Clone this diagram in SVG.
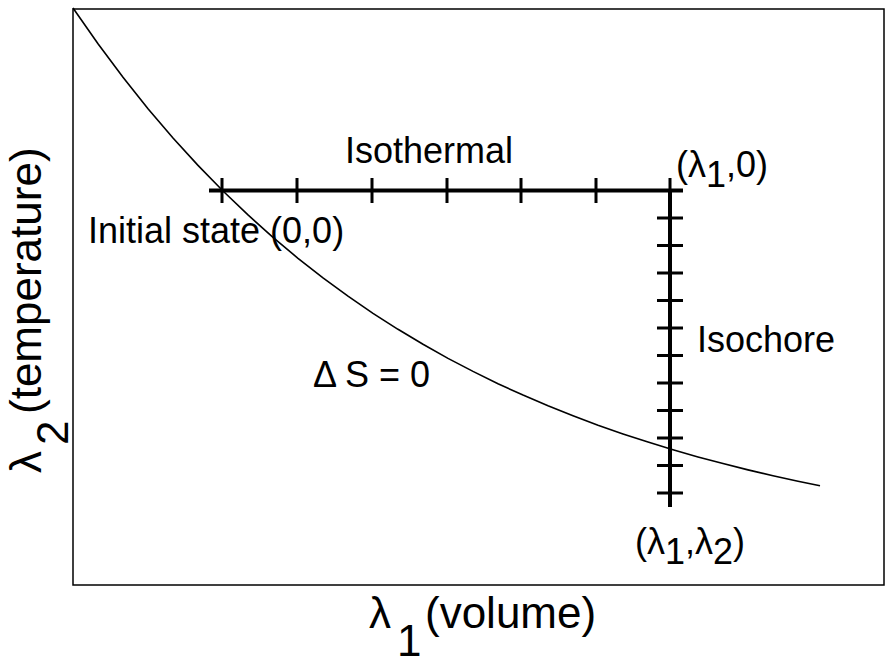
<svg xmlns="http://www.w3.org/2000/svg" width="888" height="664" viewBox="0 0 888 664">
<style>
text{font-family:"Liberation Sans",Arial,sans-serif;fill:#000}
.lbl{font-size:36px}
.ax{font-size:44px}
.path{stroke:#000;stroke-width:4;fill:none}
.tick{stroke:#000;stroke-width:3;fill:none}
</style>
<rect id="frame" x="73" y="9" width="811" height="576" fill="none" stroke="#000" stroke-width="1.5"/>
<g id="curve">
<polyline fill="none" stroke="#000" stroke-width="1.6" points="73,8 98,43.8 123,77.3 148,108.7 173,138 198,165.4 223,191 248,214.9 273,237.4 298,258.3 323,277.9 348,296.2 373,313.3 398,329.3 423,344.3 448,358.4 473,371.4 498,383.7 523,395.1 548,405.8 573,415.8 598,425.2 623,433.9 648,442.1 673,449.8 698,456.9 723,463.6 748,469.9 773,475.7 798,481.2 820,485.7"/>
</g>
<g id="connectors">
<g id="isothermal">
<line class="path" x1="209" y1="190.5" x2="683" y2="190.5"/>
<path class="tick" d="M222,178v25M297,178v25M372,178v25M447,178v25M521,178v25M596,178v25M670,178v25"/>
</g>
<g id="isochore">
<line class="path" x1="670" y1="190.5" x2="670" y2="507"/>
<path class="tick" d="M657,190.5h26M657,218h26M657,245.5h26M657,273h26M657,300.5h26M657,328h26M657,355.5h26M657,383h26M657,410.5h26M657,438h26M657,465.5h26M657,493h26"/>
</g>
</g>
<g id="node-isothermal"><text class="lbl" x="345" y="163">Isothermal</text></g>
<g id="node-l10"><text class="lbl" x="676" y="177">(λ<tspan dy="10">1</tspan><tspan dy="-10">,0)</tspan></text></g>
<g id="node-initial"><text class="lbl" x="88" y="243">Initial state (0,0)</text></g>
<g id="node-isochore"><text class="lbl" x="697" y="352">Isochore</text></g>
<g id="node-ds"><text class="lbl" x="313" y="387">Δ S = 0</text></g>
<g id="node-l1l2"><text class="lbl" x="635" y="554">(λ<tspan dy="10">1</tspan><tspan dy="-10">,λ</tspan><tspan dy="10">2</tspan><tspan dy="-10">)</tspan></text></g>
<g id="xlabel"><text class="ax" x="369" y="628">λ<tspan x="397" dy="28">1</tspan><tspan x="425" dy="-28">(volume)</tspan></text></g>
<g id="ylabel"><text class="ax" transform="rotate(-90)" x="-473" y="41">λ<tspan x="-445" dy="27">2</tspan><tspan x="-414" dy="-27">(temperature)</tspan></text></g>
</svg>
